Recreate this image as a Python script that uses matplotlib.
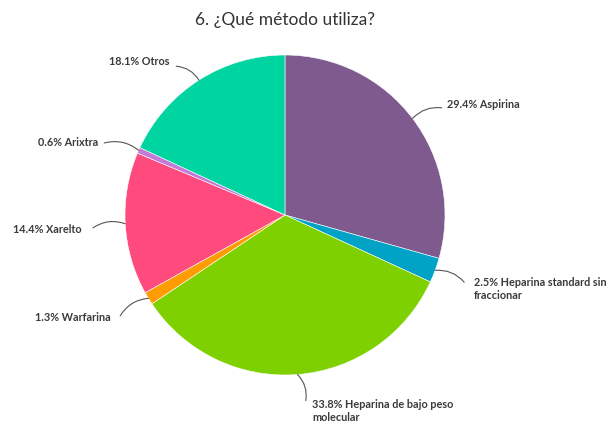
import numpy as np
import matplotlib.pyplot as plt

# slices, clockwise from 12 o'clock
labels = ["Aspirina", "Heparina standard sin\nfraccionar", "Heparina de bajo peso\nmolecular",
          "Warfarina", "Xarelto", "Arixtra", "Otros"]
shares = [29.4, 2.5, 33.8, 1.3, 14.4, 0.6, 18.1]
colors = ["#7f5a8f", "#00a3c6", "#7ed000", "#ff9c00", "#ff4a7e", "#c67ad8", "#00d5a1"]

# label text anchor and leader end (axes data units, pie radius = 1)
text_pos = [(1.01, 0.69), (1.18, -0.385), (0.17, -1.15), (-1.09, -0.64),
            (-1.27, -0.09), (-1.17, 0.45), (-0.72, 0.96)]
line_end = [(0.98, 0.67), (1.12, -0.42), (0.13, -1.16), (-1.03, -0.63),
            (-1.20, -0.08), (-1.13, 0.45), (-0.68, 0.93)]

fig = plt.figure(figsize=(6.12, 4.25), dpi=100)
ax = fig.add_axes([(285 - 160) / 612, (425 - 215 - 160) / 425, 320 / 612, 320 / 425])

wedges, _ = ax.pie(shares, colors=colors, startangle=90, counterclock=False, radius=1,
                   wedgeprops=dict(edgecolor="white", linewidth=0.4))
ax.set_xlim(-1, 1)
ax.set_ylim(-1, 1)
ax.set_aspect("equal")
ax.axis("off")

lab_font = dict(family=["Lato", "DejaVu Sans"], weight="bold", fontsize=7.8, color="#3a3a3a")
for w, lab, s, tp, le in zip(wedges, labels, shares, text_pos, line_end):
    mid = np.deg2rad((w.theta1 + w.theta2) / 2)
    x0, y0 = np.cos(mid), np.sin(mid)
    ha = "left" if tp[0] > 0 else "right"
    va = "top" if "\n" in lab else "center"
    ax.text(tp[0], tp[1], f"{s}% {lab}", ha=ha, va=va, linespacing=1.25,
            clip_on=False, **lab_font)
    rad = 0.25 if tp[0] > 0 else -0.25
    ax.annotate("", xy=(x0, y0), xytext=le, annotation_clip=False,
                arrowprops=dict(arrowstyle="-", color="#555555", lw=0.8,
                                shrinkA=0, shrinkB=0,
                                connectionstyle=f"arc3,rad={rad}"))

fig.text(285 / 612, 1 - 20 / 425, "6. ¿Qué método utiliza?", ha="center", va="center",
         family=["Lato", "DejaVu Sans"], fontsize=12.5, color="#333333")

fig.savefig("out.png", dpi=100, facecolor="white")
